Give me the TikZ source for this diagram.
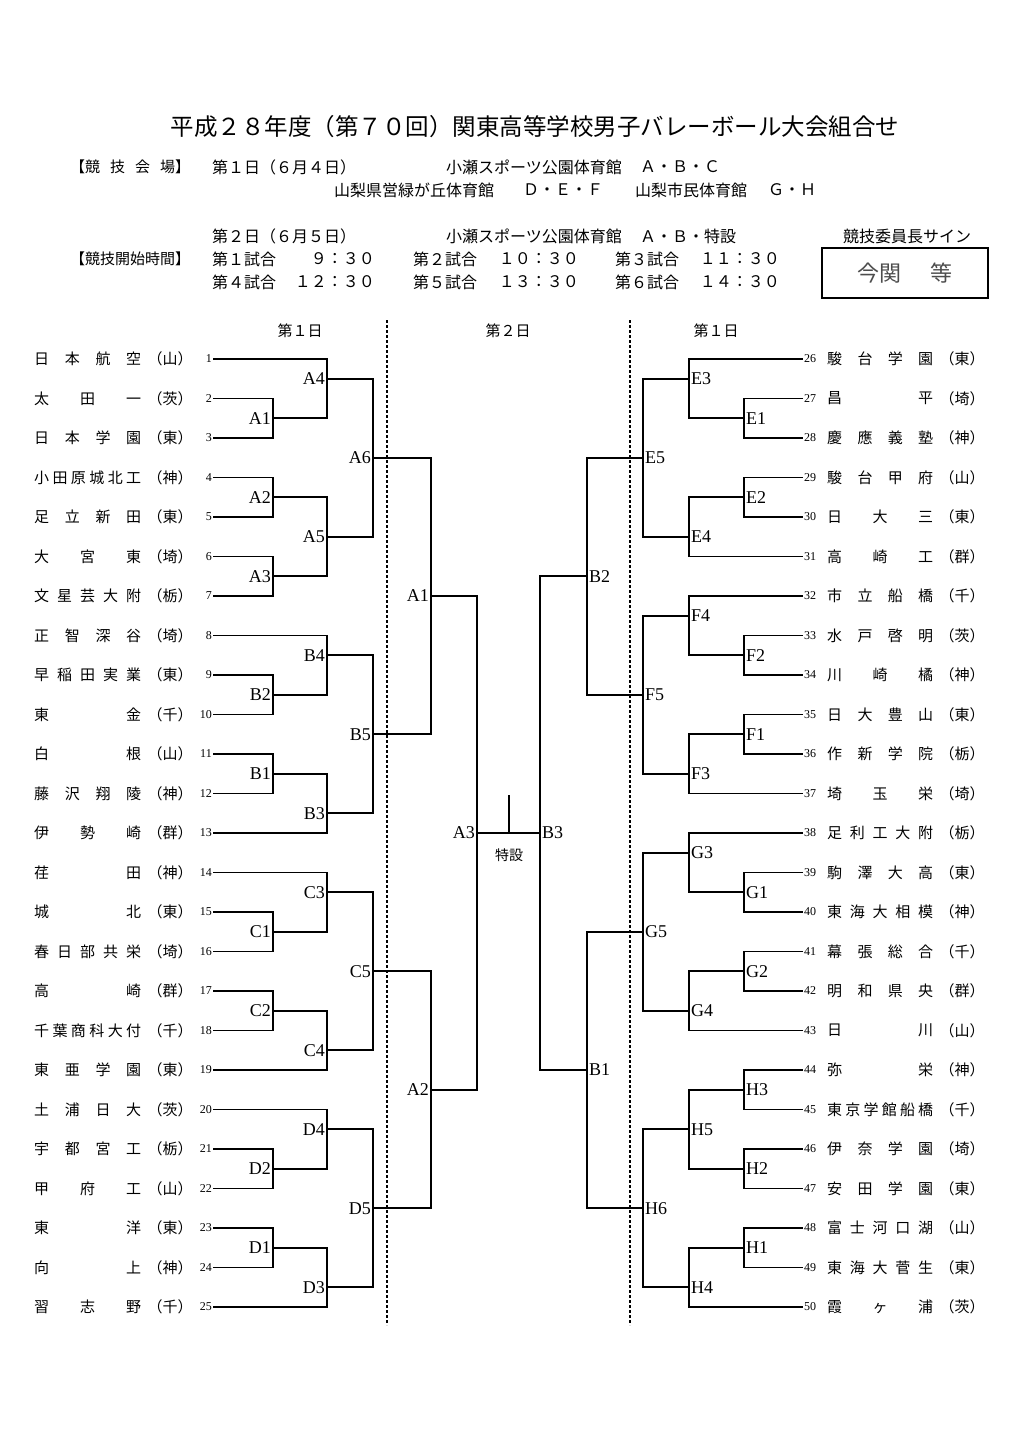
\documentclass[tikz,border=0pt]{standalone}
\usepackage{fontspec}
\setmainfont{Liberation Serif}
\newfontfamily\jp{Noto Sans CJK JP}
\def\spreadA#1#2{#1\ifx\relax#2\else\hfill\expandafter\spreadA\expandafter#2\fi}
\newcommand\spr[1]{\spreadA#1\relax}
\newcommand\RY[1]{(359+(#1-1)*39.5)}
\tikzset{
  nm/.style={font=\jp\fontsize{15}{15}\selectfont, inner sep=0pt},
  pf/.style={font=\jp\fontsize{15}{15}\selectfont, inner sep=0pt},
  num/.style={font=\fontsize{12}{12}\selectfont, inner sep=1pt},
  lab/.style={font=\fontsize{18}{18}\selectfont, inner sep=1pt},
  hd/.style={font=\jp\fontsize{16}{16}\selectfont, inner sep=0pt},
  ttl/.style={font=\jp\fontsize{23.5}{23.5}\selectfont, inner sep=0pt},
  br/.style={line width=1.8pt},
  dsh/.style={line width=1.1pt, dash pattern=on 3pt off 2pt},
}
\newcommand\lteam[3]{%
  \node[nm,anchor=west] (ln#1) at (34,{\RY{#1}}) {\makebox[107pt]{\spr{#2}}};
  \node[pf] (lp#1) at (170,{\RY{#1}}) {（#3）};
  \node[num,anchor=east] (n#1) at (213,{\RY{#1}}) {#1};
}
\newcommand\rteam[3]{%
  \node[num,anchor=west] (n#1) at (803,{\RY{#1-25}}) {#1};
  \node[nm,anchor=west] (rn#1) at (827,{\RY{#1-25}}) {\makebox[106pt]{\spr{#2}}};
  \node[pf] (rp#1) at (962,{\RY{#1-25}}) {（#3）};
}
\newcommand\mL[6]{%
  \coordinate (#1) at (#2,{\RY{#3}});
  \draw[br] (#4) -| (#1) |- (#5);
  \node[lab,anchor=east,xshift=-1pt] (l#1) at (#1) {#6};
}
\newcommand\mR[6]{%
  \coordinate (#1) at (#2,{\RY{#3}});
  \draw[br] (#4) -| (#1) |- (#5);
  \node[lab,anchor=west,xshift=1pt] (l#1) at (#1) {#6};
}
\begin{document}
\begin{tikzpicture}[x=1pt,y=-1pt]
\useasboundingbox (0,0) rectangle (1024,1432);
\fill[white] (0,0) rectangle (1024,1432);
% header
\node[ttl] (title) at (535,127) {平成２８年度（第７０回）関東高等学校男子バレーボール大会組合せ};
\node[hd,font=\jp\fontsize{15}{15}\selectfont,anchor=west] (h1) at (70,167) {【\makebox[90pt]{\spr{競技会場}}】};
\node[hd,anchor=west] (d1) at (212,167) {第１日（６月４日）};
\node[hd,anchor=west] (v1) at (446,167) {小瀬スポーツ公園体育館};
\node[hd,anchor=west] (v1c) at (640,167) {Ａ・Ｂ・Ｃ};
\node[hd,anchor=west] (v2) at (334,190) {山梨県営緑が丘体育館};
\node[hd,anchor=west] (v2c) at (523,190) {Ｄ・Ｅ・Ｆ};
\node[hd,anchor=west] (v3) at (635,190) {山梨市民体育館};
\node[hd,anchor=west] (v3c) at (768,190) {Ｇ・Ｈ};
\node[hd,anchor=west] (d2) at (212,236) {第２日（６月５日）};
\node[hd,anchor=west] (v4) at (446,236) {小瀬スポーツ公園体育館};
\node[hd,anchor=west] (v4c) at (640,236) {Ａ・Ｂ・特設};
\node[hd] (sgn) at (907,236) {競技委員長サイン};
\node[hd,font=\jp\fontsize{15}{15}\selectfont,anchor=west] (h2) at (70,259) {【競技開始時間】};
\node[hd,anchor=west] (g1) at (212,259) {第１試合};
\node[hd,anchor=east] (t1) at (375,259) {９：３０};
\node[hd,anchor=west] (g2) at (413,259) {第２試合};
\node[hd,anchor=east] (t2) at (579,259) {１０：３０};
\node[hd,anchor=west] (g3) at (615,259) {第３試合};
\node[hd,anchor=east] (t3) at (780,259) {１１：３０};
\node[hd,anchor=west] (g4) at (212,282) {第４試合};
\node[hd,anchor=east] (t4) at (375,282) {１２：３０};
\node[hd,anchor=west] (g5) at (413,282) {第５試合};
\node[hd,anchor=east] (t5) at (579,282) {１３：３０};
\node[hd,anchor=west] (g6) at (615,282) {第６試合};
\node[hd,anchor=east] (t6) at (780,282) {１４：３０};
\node[draw,line width=1.3pt,minimum width=166pt,minimum height=50pt,inner sep=0pt] (box) at (905,273) {};
\node[font=\jp\fontsize{22}{22}\selectfont, text=black!70] (sig) at (box.center) {今関\hspace{30pt}等};
% column headings
\node[hd,font=\jp\fontsize{15}{15}\selectfont] (c1) at (300,331) {第１日};
\node[hd,font=\jp\fontsize{15}{15}\selectfont] (c2) at (508,331) {第２日};
\node[hd,font=\jp\fontsize{15}{15}\selectfont] (c3) at (716,331) {第１日};
\coordinate (dla) at (387,320); \coordinate (dlb) at (387,1325);
\coordinate (dra) at (630,320); \coordinate (drb) at (630,1325);
\draw[dsh] (dla) -- (dlb);
\draw[dsh] (dra) -- (drb);
% teams left
\lteam{1}{日本航空}{山}
\lteam{2}{太田一}{茨}
\lteam{3}{日本学園}{東}
\lteam{4}{小田原城北工}{神}
\lteam{5}{足立新田}{東}
\lteam{6}{大宮東}{埼}
\lteam{7}{文星芸大附}{栃}
\lteam{8}{正智深谷}{埼}
\lteam{9}{早稲田実業}{東}
\lteam{10}{東金}{千}
\lteam{11}{白根}{山}
\lteam{12}{藤沢翔陵}{神}
\lteam{13}{伊勢崎}{群}
\lteam{14}{荏田}{神}
\lteam{15}{城北}{東}
\lteam{16}{春日部共栄}{埼}
\lteam{17}{高崎}{群}
\lteam{18}{千葉商科大付}{千}
\lteam{19}{東亜学園}{東}
\lteam{20}{土浦日大}{茨}
\lteam{21}{宇都宮工}{栃}
\lteam{22}{甲府工}{山}
\lteam{23}{東洋}{東}
\lteam{24}{向上}{神}
\lteam{25}{習志野}{千}
% teams right
\rteam{26}{駿台学園}{東}
\rteam{27}{昌平}{埼}
\rteam{28}{慶應義塾}{神}
\rteam{29}{駿台甲府}{山}
\rteam{30}{日大三}{東}
\rteam{31}{高崎工}{群}
\rteam{32}{市立船橋}{千}
\rteam{33}{水戸啓明}{茨}
\rteam{34}{川崎橘}{神}
\rteam{35}{日大豊山}{東}
\rteam{36}{作新学院}{栃}
\rteam{37}{埼玉栄}{埼}
\rteam{38}{足利工大附}{栃}
\rteam{39}{駒澤大高}{東}
\rteam{40}{東海大相模}{神}
\rteam{41}{幕張総合}{千}
\rteam{42}{明和県央}{群}
\rteam{43}{日川}{山}
\rteam{44}{弥栄}{神}
\rteam{45}{東京学館船橋}{千}
\rteam{46}{伊奈学園}{埼}
\rteam{47}{安田学園}{東}
\rteam{48}{富士河口湖}{山}
\rteam{49}{東海大菅生}{東}
\rteam{50}{霞ヶ浦}{茨}
% left brackets day 1
\mL{LA1}{273}{2.5}{n2.east}{n3.east}{A1}
\mL{LA4}{327}{1.5}{n1.east}{LA1}{A4}
\mL{LA2}{273}{4.5}{n4.east}{n5.east}{A2}
\mL{LA3}{273}{6.5}{n6.east}{n7.east}{A3}
\mL{LA5}{327}{5.5}{LA2}{LA3}{A5}
\mL{LA6}{373}{3.5}{LA4}{LA5}{A6}
\mL{LB2}{273}{9.5}{n9.east}{n10.east}{B2}
\mL{LB4}{327}{8.5}{n8.east}{LB2}{B4}
\mL{LB1}{273}{11.5}{n11.east}{n12.east}{B1}
\mL{LB3}{327}{12.5}{LB1}{n13.east}{B3}
\mL{LB5}{373}{10.5}{LB4}{LB3}{B5}
\mL{LC1}{273}{15.5}{n15.east}{n16.east}{C1}
\mL{LC3}{327}{14.5}{n14.east}{LC1}{C3}
\mL{LC2}{273}{17.5}{n17.east}{n18.east}{C2}
\mL{LC4}{327}{18.5}{LC2}{n19.east}{C4}
\mL{LC5}{373}{16.5}{LC3}{LC4}{C5}
\mL{LD2}{273}{21.5}{n21.east}{n22.east}{D2}
\mL{LD4}{327}{20.5}{n20.east}{LD2}{D4}
\mL{LD1}{273}{23.5}{n23.east}{n24.east}{D1}
\mL{LD3}{327}{24.5}{LD1}{n25.east}{D3}
\mL{LD5}{373}{22.5}{LD4}{LD3}{D5}
% day 2 left
\mL{ZA1}{431}{7}{LA6}{LB5}{A1}
\mL{ZA2}{431}{19.5}{LC5}{LD5}{A2}
\mL{ZA3}{477}{13}{ZA1}{ZA2}{A3}
% right brackets day 1
\mR{RE1}{744}{2.5}{n27.west}{n28.west}{E1}
\mR{RE3}{689}{1.5}{n26.west}{RE1}{E3}
\mR{RE2}{744}{4.5}{n29.west}{n30.west}{E2}
\mR{RE4}{689}{5.5}{RE2}{n31.west}{E4}
\mR{RE5}{643}{3.5}{RE3}{RE4}{E5}
\mR{RF2}{744}{8.5}{n33.west}{n34.west}{F2}
\mR{RF4}{689}{7.5}{n32.west}{RF2}{F4}
\mR{RF1}{744}{10.5}{n35.west}{n36.west}{F1}
\mR{RF3}{689}{11.5}{RF1}{n37.west}{F3}
\mR{RF5}{643}{9.5}{RF4}{RF3}{F5}
\mR{RG1}{744}{14.5}{n39.west}{n40.west}{G1}
\mR{RG3}{689}{13.5}{n38.west}{RG1}{G3}
\mR{RG2}{744}{16.5}{n41.west}{n42.west}{G2}
\mR{RG4}{689}{17.5}{RG2}{n43.west}{G4}
\mR{RG5}{643}{15.5}{RG3}{RG4}{G5}
\mR{RH3}{744}{19.5}{n44.west}{n45.west}{H3}
\mR{RH2}{744}{21.5}{n46.west}{n47.west}{H2}
\mR{RH5}{689}{20.5}{RH3}{RH2}{H5}
\mR{RH1}{744}{23.5}{n48.west}{n49.west}{H1}
\mR{RH4}{689}{24.5}{RH1}{n50.west}{H4}
\mR{RH6}{643}{22.5}{RH5}{RH4}{H6}
% day 2 right
\mR{ZB2}{587}{6.5}{RE5}{RF5}{B2}
\mR{ZB1}{587}{19}{RG5}{RH6}{B1}
\mR{ZB3}{540}{13}{ZB2}{ZB1}{B3}
% final
\draw[br] (ZA3) -- (ZB3);
\coordinate (tick) at (509,795);
\draw[line width=1.1pt] (tick) -- (tick |- ZA3);
\node[font=\jp\fontsize{14}{14}\selectfont, inner sep=0pt] (toku) at (509,855) {特設};
\end{tikzpicture}
\end{document}
